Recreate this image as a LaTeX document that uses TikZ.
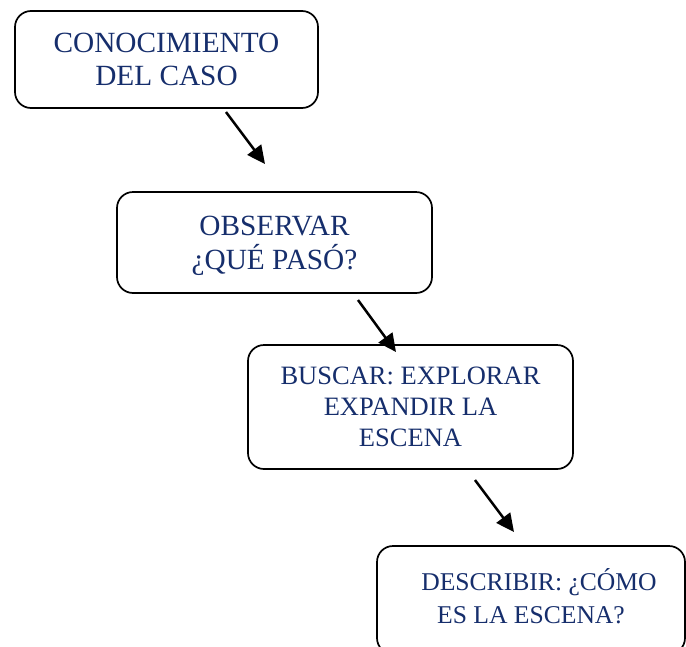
\documentclass[tikz,border=0pt]{standalone}
\usepackage{fontspec}
\setmainfont{Liberation Serif}
\usetikzlibrary{arrows.meta}
\definecolor{navy}{RGB}{22,46,108}
\begin{document}
\begin{tikzpicture}[x=1pt,y=-1pt,
  box/.style={draw=black, line width=1.7pt, rounded corners=16pt, text=navy, align=center, inner sep=0pt},
  arr/.style={line width=2.5pt, -{Triangle[length=18pt,width=17pt]}}]
\useasboundingbox (0,0) rectangle (686,646);
\node[box, minimum width=303pt, minimum height=97pt, font=\fontsize{29.3}{33}\selectfont] (a) at (166.5,59.5) {CONOCIMIENTO\\DEL CASO};
\node[box, minimum width=315pt, minimum height=101pt, text depth=0pt, font=\fontsize{29.3}{34}\selectfont] (b) at (274.5,242.5) {OBSERVAR\\¿QUÉ PASÓ?};
\node[box, minimum width=325pt, minimum height=124pt, font=\fontsize{26.5}{31}\selectfont] (c) at (410.5,407) {BUSCAR: EXPLORAR\\EXPANDIR LA\\ESCENA};
\node[box, minimum width=308pt, minimum height=108pt, text depth=8pt, font=\fontsize{25.6}{33}\selectfont] (d) at (531,600) {\hspace*{16pt}DESCRIBIR: ¿CÓMO\\ES LA ESCENA?};
\coordinate (a1) at (226,112);
\coordinate (a2) at (265,164);
\coordinate (b1) at (358,300);
\coordinate (b2) at (396,352);
\coordinate (c1) at (475,480);
\coordinate (c2) at (514,532);
\draw[arr] (a1) -- (a2);
\draw[arr] (b1) -- (b2);
\draw[arr] (c1) -- (c2);
\end{tikzpicture}
\end{document}
